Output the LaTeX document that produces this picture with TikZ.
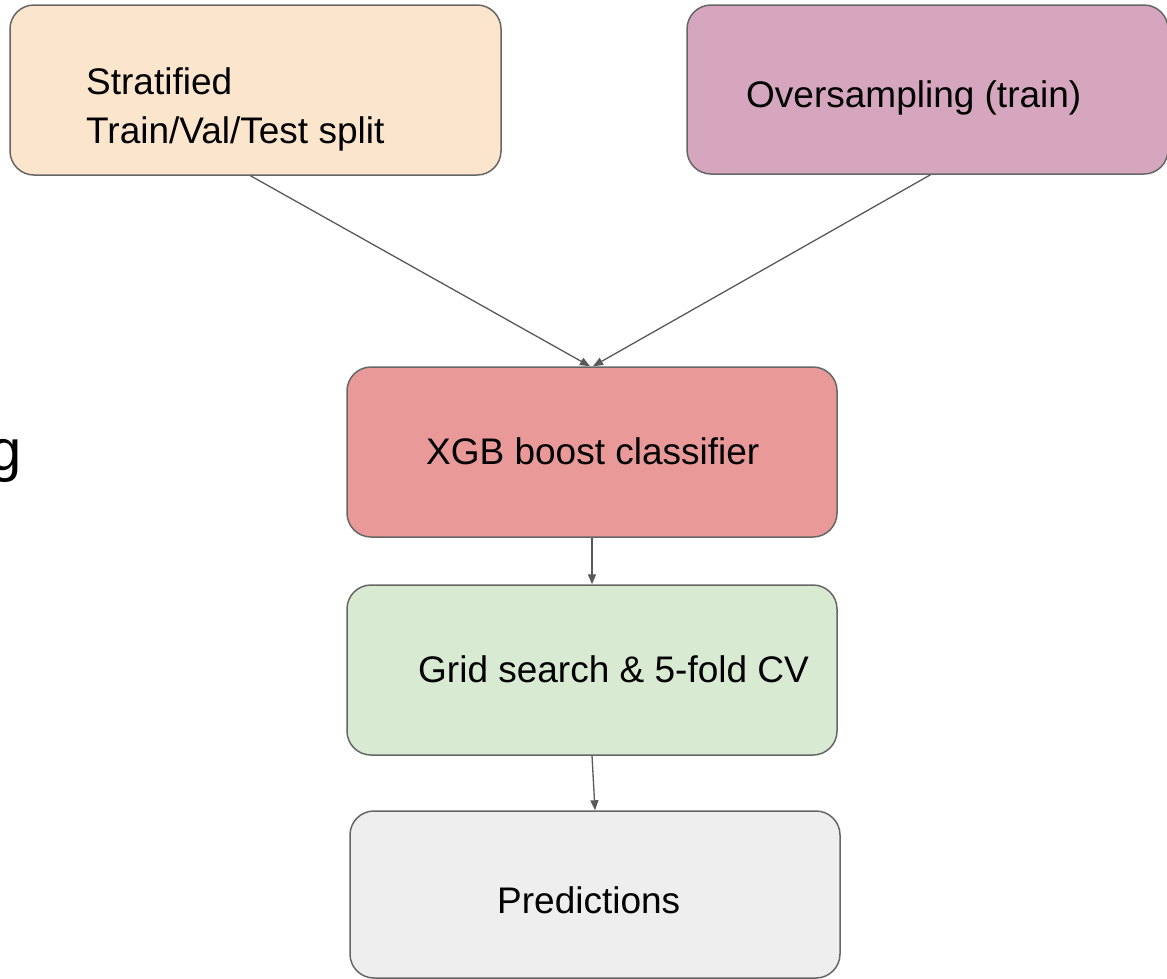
\documentclass[tikz,border=0pt]{standalone}
\usepackage{fontspec}
\setmainfont{Liberation Sans}
\usetikzlibrary{arrows.meta, positioning}
\definecolor{splitorange}{HTML}{FCE5CD}
\definecolor{samplepink}{HTML}{D5A6BD}
\definecolor{xgbred}{HTML}{EA9999}
\definecolor{gridgreen}{HTML}{D9EAD3}
\definecolor{predgrey}{HTML}{EEEEEE}
\definecolor{edgegrey}{HTML}{666666}
\definecolor{arrowgrey}{HTML}{595959}
\tikzset{
  box/.style = {draw = edgegrey, line width = 1.5pt, rounded corners = 24pt, minimum width = 490pt, minimum height = 170pt, inner sep = 0pt},
  lbl/.style = {anchor = base west, inner sep = 0pt, align = left, font = \fontsize{37}{49}\selectfont},
  flow/.style = {-{Triangle[length = 10pt, width = 8pt]}, draw = arrowgrey, line width = 1.3pt}
}

\begin{document}
\begin{tikzpicture}[x = 1pt, y = -1pt]
\path [use as bounding box, clip] (0,0) rectangle (1167,978);

% boxes
\node (strat) [box, fill = splitorange, minimum width = 491pt] at (255.5,90) {};
\node (over) [box, fill = samplepink, minimum width = 481pt, minimum height = 169pt] at (927.5,89.5) {};
\node (xgb) [box, fill = xgbred] at (592,452) {};
\node (grid) [box, fill = gridgreen] at (592,670) {};
\node (pred) [box, fill = predgrey, minimum height = 167pt] at (595,894.5) {};

\node (stratText) [lbl] at (86,143) {Stratified\\Train/Val/Test split};
\node (overText) [lbl] at (746,107) {Oversampling (train)};
\node (xgbText) [lbl] at (426,464) {XGB boost classifier};
\node (gridText) [lbl] at (418,682) {Grid search \& 5-fold CV};
\node (predText) [lbl] at (497,913) {Predictions};

\node (cutText) [anchor = base east, inner sep = 0pt, font = \fontsize{58}{70}\selectfont] at (22,470) {g};

% connectors
\draw [flow] ([xshift = -5pt]strat.south) -- ([xshift = -2pt]xgb.north);
\draw [flow] ([xshift = 3pt]over.south) -- ([xshift = 1pt]xgb.north);
\draw [flow] (xgb.south) -- (grid.north);
\draw [flow] (grid.south) -- (pred.north);
\end{tikzpicture}
\end{document}
